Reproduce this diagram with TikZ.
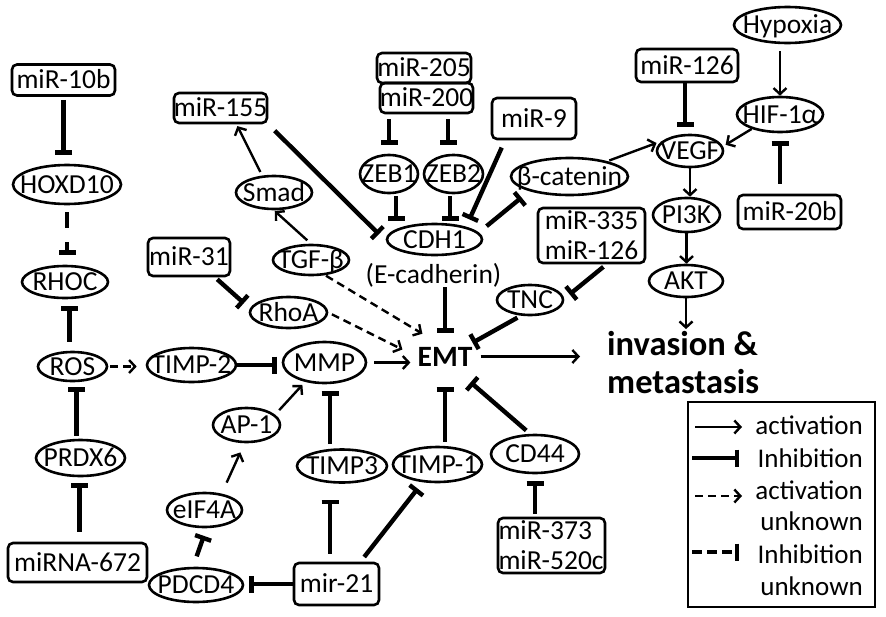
\documentclass[tikz,border=0pt]{standalone}
\usepackage{fontspec}
\setmainfont{Carlito}
\usetikzlibrary{shapes.geometric,arrows.meta}
\newcommand\nbx[1]{\raisebox{-0.32em}[0pt][0pt]{\makebox[0pt]{#1}}}
\begin{document}
\begin{tikzpicture}[x=1pt,y=-1pt,
  nf/.style={font=\fontsize{27.5}{31}\selectfont},
  E/.style 2 args={ellipse, draw, line width=2.6pt, inner sep=0pt, nf, minimum width=#1pt, minimum height=#2pt},
  B/.style 2 args={rectangle, rounded corners=5pt, draw, line width=2.6pt, inner sep=0pt, nf, align=center, minimum width=#1pt, minimum height=#2pt},
  act/.style={line width=2.4pt, -{Straight Barb[length=6pt,width=13pt]}},
  actd/.style={act, dash pattern=on 8pt off 5pt},
  inh/.style={line width=4.4pt, -{Bar[width=17pt]}},
  inhd/.style={inh, dash pattern=on 16pt off 14pt},
  inhl/.style={inh, dash pattern=on 10pt off 5pt},
  lg/.style={font=\fontsize{27}{31}\selectfont, inner sep=0pt, anchor=base east}]
\useasboundingbox (0,0) rectangle (886,616);

% ---- boxes
\node[B={103}{31}] (miR10b) at (63.5,80) {\nbx{miR-10b}};
\node[B={93}{30}] (miR155) at (220.5,108) {\nbx{miR-155}};
\node[B={82}{38}] (miR31) at (189,257) {\nbx{miR-31}};
\node[B={94}{30}] (miR205) at (424,68) {\nbx{miR-205}};
\node[B={93}{30}] (miR200) at (426.5,98) {\nbx{miR-200}};
\node[B={84}{41}] (miR9) at (534,118.5) {\nbx{miR-9}};
\node[B={102}{33}] (miR126a) at (687,65.5) {\nbx{miR-126}};
\node[B={103}{34}] (miR20b) at (789.5,212) {\nbx{miR-20b}};
\node[B={107}{55}] (miR335) at (591.5,235.5) {miR-335\\[-1pt]miR-126};
\node[B={107}{55}, text width=106pt, align=left] (miR373) at (551.5,545.5) {miR-373\\[-1pt]miR-520c};
\node[B={85}{42}] (mir21) at (336.5,584) {\nbx{mir-21}};
\node[B={139}{39}] (miRNA672) at (77.5,562.5) {\nbx{miRNA-672}};

% ---- ellipses
\node[E={107}{36}] (Hypoxia) at (787.5,25) {\nbx{Hypoxia}};
\node[E={86}{35}] (HIF) at (780,114.5) {\nbx{HIF-1α}};
\node[E={66}{32}] (VEGF) at (690,151) {\nbx{VEGF}};
\node[E={117}{37}] (bcat) at (569.5,176.5) {\nbx{β-catenin}};
\node[E={67}{34}] (PI3K) at (686.5,215) {\nbx{PI3K}};
\node[E={74}{32}] (AKT) at (686,281) {\nbx{AKT}};
\node[E={66}{30}] (TNC) at (530,300) {\nbx{TNC}};
\node[E={95}{31}] (CDH1) at (434.5,239.5) {\nbx{CDH1}};
\node[nf, inner sep=0pt] (ecad) at (433.5,275) {(E-cadherin)};
\node[E={58}{38}] (ZEB1) at (389,174) {\nbx{ZEB1}};
\node[E={59}{38}] (ZEB2) at (453.5,174) {\nbx{ZEB2}};
\node[E={76}{33}] (Smad) at (274,192.5) {\nbx{Smad}};
\node[E={76}{30}] (TGF) at (311,260) {\nbx{TGF-β}};
\node[E={77}{31}] (RhoA) at (288.5,312.5) {\nbx{RhoA}};
\node[E={83}{41}] (MMP) at (324.5,362.5) {\nbx{MMP}};
\node[E={89}{34}] (TIMP2) at (191.5,365) {\nbx{TIMP-2}};
\node[E={69}{29}] (ROS) at (72.5,366.5) {\nbx{ROS}};
\node[E={86}{32}] (RHOC) at (65,282) {\nbx{RHOC}};
\node[E={108}{39}] (HOXD10) at (67,184.5) {\nbx{HOXD10}};
\node[E={89}{36}] (PRDX6) at (80.5,458) {\nbx{PRDX6}};
\node[E={94}{34}] (PDCD4) at (196,585) {\nbx{PDCD4}};
\node[E={75}{34}] (eIF4A) at (204.5,510) {\nbx{eIF4A}};
\node[E={67}{34}] (AP1) at (246.5,425) {\nbx{AP-1}};
\node[E={90}{33}] (TIMP3) at (342,466) {\nbx{TIMP3}};
\node[E={89}{35}] (TIMP1) at (437.5,464.5) {\nbx{TIMP-1}};
\node[E={88}{38}] (CD44) at (535,454) {\nbx{CD44}};

% ---- EMT and outcome
\node[font=\bfseries\fontsize{29.5}{35}\selectfont, inner sep=0pt] (EMT) at (445,356.5) {EMT};
\node[font=\bfseries\fontsize{34.5}{38}\selectfont, inner sep=0pt, align=left, anchor=west] (inv) at (607,362.5) {invasion \&\\metastasis};

% ---- left column
\draw[inh, shorten <=3pt, shorten >=9pt] (miR10b.south) -- (miR10b.south |- HOXD10.north);
\draw[inhd, shorten <=7pt, shorten >=10pt] (HOXD10.south) -- (HOXD10.south |- RHOC.north);
\draw[inh, shorten <=9pt, shorten >=7pt] ([xshift=-3pt]ROS.north) -- ([xshift=-3pt]ROS.north |- RHOC.south);
\draw[inh, shorten <=3pt, shorten >=5pt] ([xshift=-4pt]PRDX6.north) -- ([xshift=-4pt]PRDX6.north |- ROS.south);
\draw[inh, shorten <=10pt, shorten >=6pt] ([xshift=2pt]miRNA672.north) -- ([xshift=2pt]miRNA672.north |- PRDX6.south);
\draw[actd, shorten <=2pt, shorten >=9pt] (ROS.east) -- (ROS.east -| TIMP2.west);
\draw[inh, shorten >=5pt] (TIMP2.east) -- (TIMP2.east -| MMP.west);

% ---- bottom
\draw[inh, shorten >=5pt] (mir21.west) -- (mir21.west -| PDCD4.east);
\draw[inh, shorten <=11pt, shorten >=8pt] ([xshift=-3pt]PDCD4.north) -- ([xshift=2pt]eIF4A.south);
\draw[act, shorten <=10pt, shorten >=10pt] ([xshift=18pt]eIF4A.north) -- ([xshift=-2pt]AP1.south);
\draw[act, shorten <=6pt, shorten >=4pt] (AP1.20) -- (MMP.225);
\draw[inh, shorten <=8pt, shorten >=16pt] ([xshift=-6.5pt]mir21.north) -- ([xshift=-6.5pt]mir21.north |- TIMP3.south);
\draw[inh, shorten <=6pt, shorten >=8pt] ([xshift=24pt]mir21.north) -- (TIMP1.230);
\draw[inh, shorten <=4pt, shorten >=7pt] ([xshift=-12pt]TIMP3.north) -- ([xshift=-12pt]TIMP3.north |- MMP.south);
\draw[inh, shorten <=4pt, shorten >=21pt] (EMT.south |- TIMP1.north) -- (EMT.south);
\draw[inh, shorten <=5pt] ([xshift=-5pt]CD44.north) -- ([xshift=-2pt,yshift=-16pt]EMT.south east);
\draw[inh, shorten <=3pt, shorten >=7pt] (CD44.south |- miR373.north) -- (CD44.south);

% ---- into EMT
\draw[act, shorten <=7pt, shorten >=7pt] (MMP.east) -- (MMP.east -| EMT.west);
\draw[actd, shorten <=1pt] (TGF.313) -- ([xshift=5pt,yshift=13pt]EMT.north west);
\draw[actd, shorten <=4pt] (RhoA.east) -- ([xshift=-15pt,yshift=7pt]EMT.west);
\draw[inh, shorten >=14pt] (EMT.north |- ecad.south) -- (EMT.north);
\draw[inh, shorten <=4pt] (TNC.240) -- ([yshift=4pt]EMT.north east);
\draw[inh, shorten <=4pt, shorten >=7pt] ([xshift=15pt]miR335.south) -- (TNC.2);
\draw[inh, shorten <=3pt, shorten >=8pt] ([xshift=26pt]miR31.south) -- (RhoA.174);
\draw[act, shorten <=8pt, shorten >=27pt] (EMT.east) -- (EMT.east -| inv.west);

% ---- top middle
\draw[act, shorten <=5pt, shorten >=1pt] (TGF.north) -- (Smad.south);
\draw[act, shorten <=4pt, shorten >=2pt] (Smad.125) -- ([xshift=16pt]miR155.south);
\draw[inh, shorten <=9pt, shorten >=10pt] (miR155.south east) -- (CDH1.182);
\draw[inh, shorten <=5pt, shorten >=9pt] (ZEB1.north |- miR200.south) -- (ZEB1.north);
\draw[inh, shorten <=5pt, shorten >=9pt] ([xshift=-5.5pt]ZEB2.north |- miR200.south) -- ([xshift=-5.5pt]ZEB2.north);
\draw[inh, shorten <=2pt, shorten >=2pt] ([xshift=7pt]ZEB1.south) -- ([xshift=7pt]ZEB1.south |- CDH1.north);
\draw[inh, shorten <=2pt, shorten >=2pt] ([xshift=-3.5pt]ZEB2.south) -- ([xshift=-3.5pt]ZEB2.south |- CDH1.north);
\draw[inh, shorten <=8pt, shorten >=8pt] ([xshift=-29pt]miR9.south) -- (CDH1.22);
\draw[inh, shorten <=10pt, shorten >=10pt] (CDH1.9) -- (bcat.200);

% ---- right column
\draw[act, shorten <=2pt, shorten >=6pt] (bcat.22) -- (VEGF.160);
\draw[act, shorten <=7pt] (HIF.north |- Hypoxia.south) -- (HIF.north);
\draw[act, shorten >=3pt] (HIF.207) -- (VEGF.8);
\draw[inh, shorten >=7pt] ([xshift=-2pt]miR126a.south) -- ([xshift=-2pt]miR126a.south |- VEGF.north);
\draw[inh, shorten <=10pt, shorten >=8pt] (HIF.south |- miR20b.north) -- (HIF.south);
\draw[act] (VEGF.south) -- (VEGF.south |- PI3K.north);
\draw[act] (PI3K.south) -- (PI3K.south |- AKT.north);
\draw[act, shorten >=2pt] (AKT.south) -- (AKT.south |- inv.north);

% ---- legend
\node[draw, line width=1.2pt, inner sep=0pt, minimum width=187pt, minimum height=205pt] (leg) at (781.5,504.5) {};
\coordinate (l1a) at (695,427); \coordinate (l1b) at (742,427);
\coordinate (l2a) at (692,458); \coordinate (l2b) at (739,458);
\coordinate (l3a) at (695,496); \coordinate (l3b) at (742,496);
\coordinate (l4a) at (692,552); \coordinate (l4b) at (739,552);
\draw[act] (l1a) -- (l1b);
\draw[inh] (l2a) -- (l2b);
\draw[actd] (l3a) -- (l3b);
\draw[inhl] (l4a) -- (l4b);
\node[lg] (t1) at (863,434) {activation};
\node[lg] (t2) at (863,467) {Inhibition};
\node[lg] (t3) at (863,499) {activation};
\node[lg] (t4) at (863,530) {unknown};
\node[lg] (t5) at (863,563) {Inhibition};
\node[lg] (t6) at (863,595) {unknown};
\end{tikzpicture}
\end{document}
